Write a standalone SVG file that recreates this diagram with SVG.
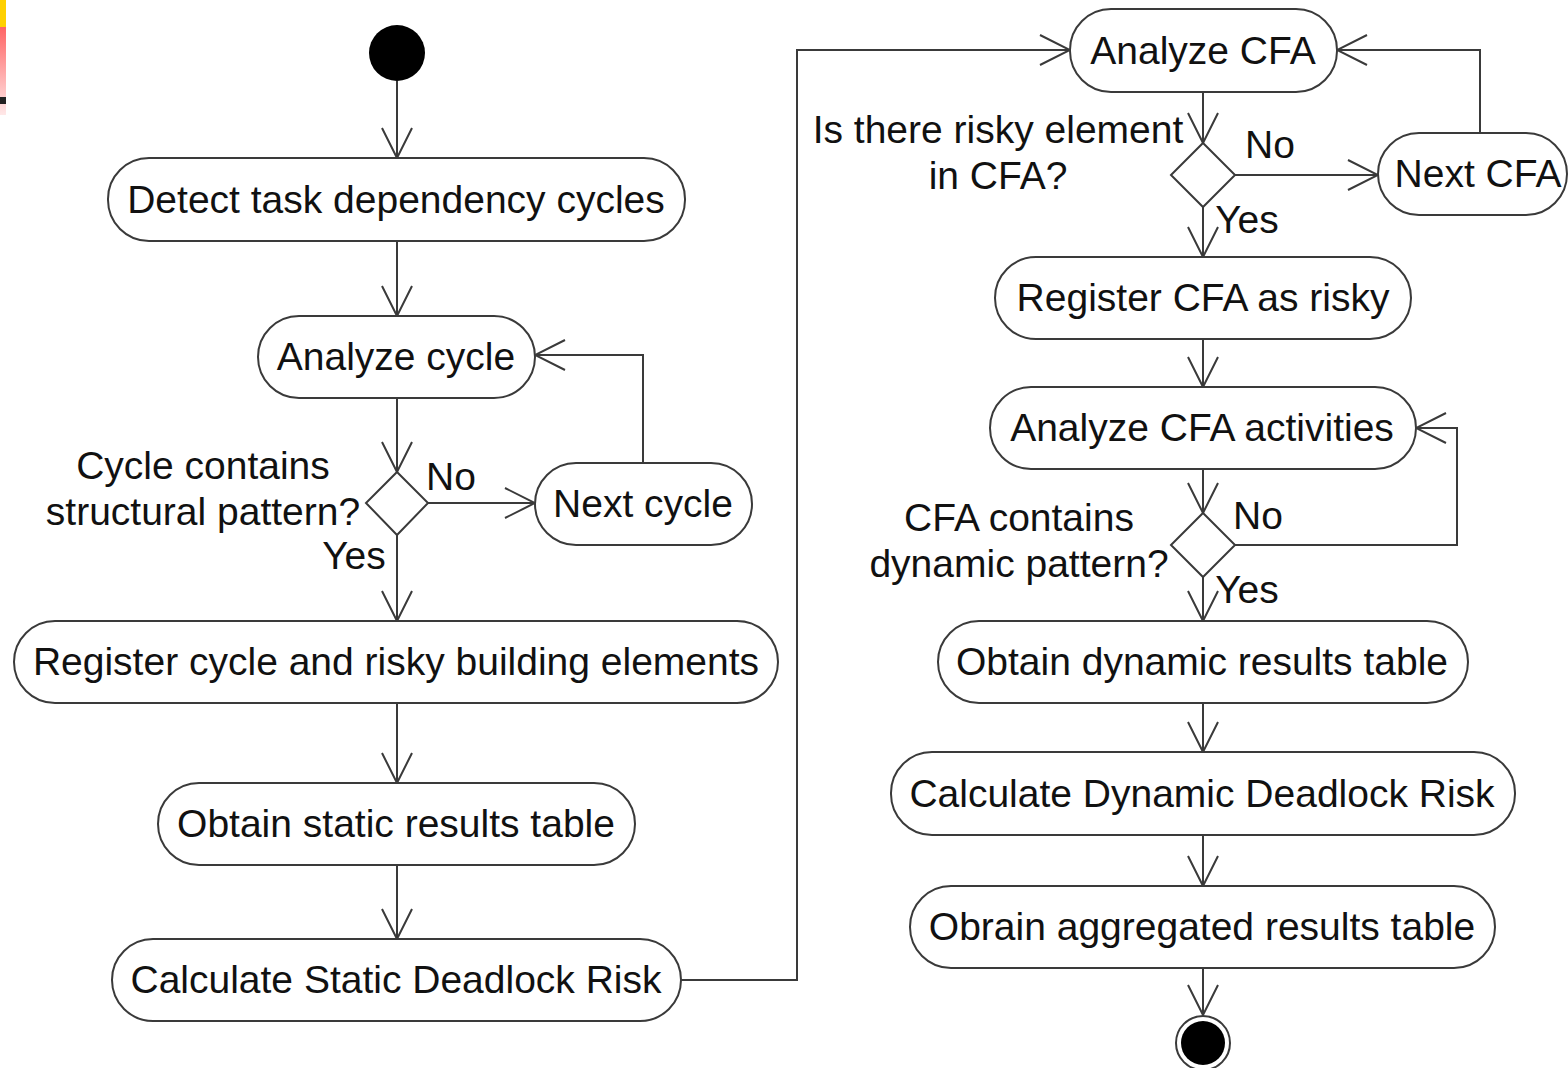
<svg xmlns="http://www.w3.org/2000/svg" width="1568" height="1068" viewBox="0 0 1568 1068">
<defs>
<linearGradient id="gr" x1="0" y1="0" x2="0" y2="1"><stop offset="0" stop-color="#ff6464"/><stop offset="1" stop-color="#ffe8e8"/></linearGradient>
<marker id="arr" markerUnits="userSpaceOnUse" markerWidth="34" markerHeight="34" viewBox="-32 -17 34 34" refX="0" refY="0" orient="auto"><path d="M-30,-15 L0,0 L-30,15" fill="none" stroke="#3a3a3a" stroke-width="2"/></marker>
</defs>
<style>
.n{fill:#fff;stroke:#3a3a3a;stroke-width:2}
.t{font-family:"Liberation Sans",Arial,sans-serif;font-size:39px;fill:#111;text-anchor:middle}
.c{fill:none;stroke:#3a3a3a;stroke-width:2}
.a{marker-end:url(#arr)}
</style>
<rect x="0" y="0" width="1568" height="1068" fill="#fff"/>
<rect x="0" y="0" width="6" height="27" fill="#ffd000"/>
<rect x="0" y="27" width="6" height="88" fill="url(#gr)"/>
<rect x="0" y="97" width="6" height="7" fill="#222"/>

<g id="connectors">
<path class="c a" d="M397,81 V158"/>
<path class="c a" d="M397,241 V316"/>
<path class="c a" d="M397,398 V472"/>
<path class="c a" d="M428,503 H535"/>
<path class="c a" d="M643,463 V355 H535"/>
<path class="c a" d="M397,535 V621"/>
<path class="c a" d="M397,703 V783"/>
<path class="c a" d="M397,865 V939"/>
<path class="c a" d="M681,980 H797 V50 H1070"/>
<path class="c a" d="M1203,92 V143"/>
<path class="c a" d="M1235,175 H1378"/>
<path class="c a" d="M1480,133 V50 H1337"/>
<path class="c a" d="M1203,207 V257"/>
<path class="c a" d="M1203,339 V387"/>
<path class="c a" d="M1203,469 V513"/>
<path class="c a" d="M1235,545 H1457 V428 H1416"/>
<path class="c a" d="M1203,577 V621"/>
<path class="c a" d="M1203,703 V752"/>
<path class="c a" d="M1203,835 V886"/>
<path class="c a" d="M1203,968 V1015"/>
</g>

<g id="start"><circle cx="397" cy="53" r="28" fill="#000"/></g>
<g id="detect"><rect class="n" x="108" y="158" width="577" height="83" rx="41"/><text class="t" x="396" y="213">Detect task dependency cycles</text></g>
<g id="analyzeCycle"><rect class="n" x="258" y="316" width="277" height="82" rx="41"/><text class="t" x="396" y="370">Analyze cycle</text></g>
<g id="decision1"><path class="n" d="M397,472 L428,503 L397,535 L366,503 Z"/>
<text class="t" x="203" y="479">Cycle contains</text><text class="t" x="203" y="525">structural pattern?</text>
<text class="t" x="451" y="490">No</text><text class="t" x="354" y="569">Yes</text></g>
<g id="nextCycle"><rect class="n" x="535" y="463" width="217" height="82" rx="41"/><text class="t" x="643" y="517">Next cycle</text></g>
<g id="registerCycle"><rect class="n" x="14" y="621" width="764" height="82" rx="41"/><text class="t" x="396" y="675">Register cycle and risky building elements</text></g>
<g id="staticTable"><rect class="n" x="158" y="783" width="477" height="82" rx="41"/><text class="t" x="396" y="837">Obtain static results table</text></g>
<g id="staticRisk"><rect class="n" x="112" y="939" width="569" height="82" rx="41"/><text class="t" x="396" y="993">Calculate Static Deadlock Risk</text></g>

<g id="analyzeCFA"><rect class="n" x="1070" y="9" width="267" height="83" rx="41"/><text class="t" x="1203" y="64">Analyze CFA</text></g>
<g id="decision2"><path class="n" d="M1203,143 L1235,175 L1203,207 L1171,175 Z"/>
<text class="t" x="998" y="143">Is there risky element</text><text class="t" x="998" y="189">in CFA?</text>
<text class="t" x="1270" y="158">No</text><text class="t" x="1247" y="233">Yes</text></g>
<g id="nextCFA"><rect class="n" x="1378" y="133" width="189" height="82" rx="41"/><text class="t" x="1478" y="187">Next CFA</text></g>
<g id="registerCFA"><rect class="n" x="995" y="257" width="416" height="82" rx="41"/><text class="t" x="1203" y="311">Register CFA as risky</text></g>
<g id="analyzeActivities"><rect class="n" x="990" y="387" width="426" height="82" rx="41"/><text class="t" x="1202" y="441">Analyze CFA activities</text></g>
<g id="decision3"><path class="n" d="M1203,513 L1235,545 L1203,577 L1171,545 Z"/>
<text class="t" x="1019" y="531">CFA contains</text><text class="t" x="1019" y="577">dynamic pattern?</text>
<text class="t" x="1258" y="529">No</text><text class="t" x="1247" y="603">Yes</text></g>
<g id="dynamicTable"><rect class="n" x="938" y="621" width="530" height="82" rx="41"/><text class="t" x="1202" y="675">Obtain dynamic results table</text></g>
<g id="dynamicRisk"><rect class="n" x="891" y="752" width="624" height="83" rx="41"/><text class="t" x="1202" y="807">Calculate Dynamic Deadlock Risk</text></g>
<g id="aggregated"><rect class="n" x="910" y="886" width="585" height="82" rx="41"/><text class="t" x="1202" y="940">Obrain aggregated results table</text></g>
<g id="end"><circle cx="1203" cy="1043" r="27" fill="#fff" stroke="#3a3a3a" stroke-width="2"/><circle cx="1203" cy="1043" r="22" fill="#000"/></g>
</svg>
